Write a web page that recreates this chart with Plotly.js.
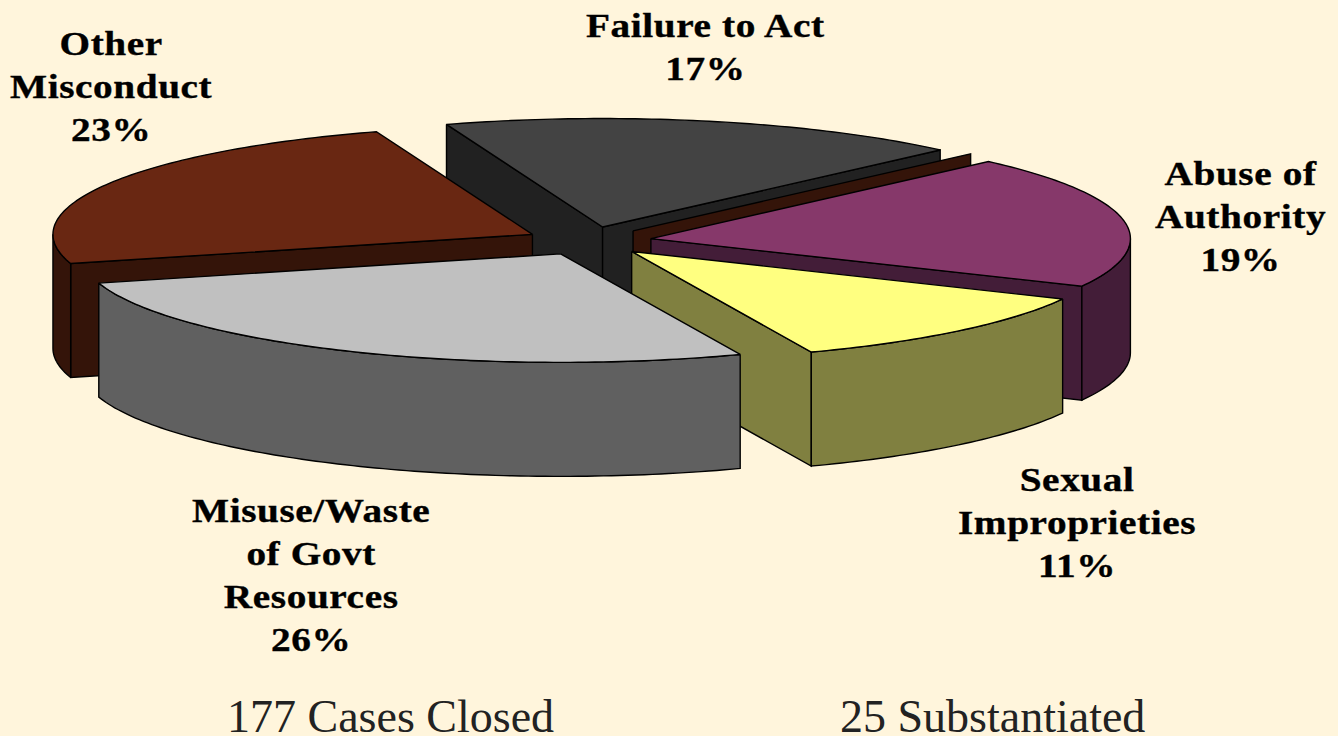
<!DOCTYPE html>
<html>
<head>
<meta charset="utf-8">
<script src="https://cdn.plot.ly/plotly-3.0.1.min.js"></script>
<style>
html,body{margin:0;padding:0;background:#fff5dc;overflow:hidden}
#chart{width:1338px;height:736px}
.annotation-text[style*="33px"]{
  letter-spacing:.5px;stroke:#000;stroke-width:.35px;
  transform-box:fill-box;transform-origin:center;transform:scaleX(1.19);
}
</style>
</head>
<body>
<div id="chart"></div>
<script>
// Data, clockwise from the back of the pie
var sliceNames  = ['Failure to Act', '', 'Abuse of<br>Authority', 'Sexual<br>Improprieties', 'Misuse/Waste<br>of Govt<br>Resources', 'Other<br>Misconduct'];
var sliceValues = [17, 0, 19, 11.2, 25.7, 23.1];
var topColors   = ['#434343', '#341409', '#86386a', '#ffff80', '#c0c0c0', '#692712'];
var wallColors  = ['#212121', '#341409', '#431d38', '#808040', '#606060', '#341409'];
var footerTexts = ['177 Cases Closed', '25 Substantiated'];

// Projection of the tilted pie into the plot's coordinate space
var view = {cx: 588.5, cy: 241, rx: 479.5, ry: 108.5, depth: 114, explode: 0.132, startDeg: 109};
var drawOrder = [0, 5, 1, 2, 3, 4];
var labelAnchors = [[705, 47], null, [1240, 217], [1077, 523], [311, 575], [111, 87]];
var footerAnchors = [[390, 716], [992, 716]];

var total = sliceValues.reduce(function (a, b) { return a + b; }, 0);
var rad = Math.PI / 180;

var angles = [], acc = view.startDeg;
sliceValues.forEach(function (v) {
  var span = v / total * 360;
  angles.push({from: acc, to: acc - span});
  acc -= span;
});

function apex(i) {
  var mid = (angles[i].from + angles[i].to) / 2 * rad;
  return [view.cx + view.explode * view.rx * Math.cos(mid),
          view.cy - view.explode * view.ry * Math.sin(mid)];
}
function rim(c, deg) {
  return [c[0] + view.rx * Math.cos(deg * rad), c[1] - view.ry * Math.sin(deg * rad)];
}
function arc(c, from, to) {
  var pts = [], n = Math.max(1, Math.ceil(Math.abs(from - to)));
  for (var k = 0; k <= n; k++) pts.push(rim(c, from + (to - from) * k / n));
  return pts;
}
function poly(pts, color) {
  var closed = pts.concat([pts[0]]);
  return {
    type: 'scatter', mode: 'lines', fill: 'toself', fillcolor: color,
    x: closed.map(function (p) { return p[0]; }),
    y: closed.map(function (p) { return p[1]; }),
    line: {color: '#000000', width: 1.4, simplify: false},
    hoverinfo: 'skip', showlegend: false
  };
}
function wall(edge, color) {
  var lower = edge.map(function (p) { return [p[0], p[1] + view.depth]; }).reverse();
  return poly(edge.concat(lower), color);
}

var traces = [];
drawOrder.forEach(function (i) {
  var c = apex(i), from = angles[i].from, to = angles[i].to;
  // radial side faces that turn toward the viewer
  if (Math.cos(from * rad) < 0) traces.push(wall([c, rim(c, from)], wallColors[i]));
  if (Math.cos(to * rad) > 0) traces.push(wall([c, rim(c, to)], wallColors[i]));
  // outer rim: only the part at the front of the pie
  var hi = Math.min(from, 0), lo = Math.max(to, -180);
  if (hi > lo) traces.push(wall(arc(c, hi, lo), wallColors[i]));
  if (sliceValues[i] > 0) traces.push(poly([c].concat(arc(c, from, to)), topColors[i]));
});

var annotations = [];
sliceNames.forEach(function (name, i) {
  if (!name) return;
  annotations.push({
    x: labelAnchors[i][0], y: labelAnchors[i][1], xref: 'x', yref: 'y',
    text: '<b>' + name + '<br>' + Math.round(sliceValues[i]) + '%</b>',
    showarrow: false, align: 'center', xanchor: 'center', yanchor: 'middle',
    font: {family: '"Liberation Serif", serif', size: 33, color: '#000000'}
  });
});
var footerNotes = footerTexts.map(function (t, i) {
  return {
    x: footerAnchors[i][0], y: footerAnchors[i][1], xref: 'x', yref: 'y',
    text: t, showarrow: false, xanchor: 'center', yanchor: 'middle',
    font: {family: '"Liberation Serif", serif', size: 46, color: '#222222'}
  };
});

Plotly.newPlot('chart', traces, {
  width: 1338, height: 736,
  margin: {l: 0, r: 0, t: 0, b: 0, pad: 0},
  paper_bgcolor: '#fff5dc', plot_bgcolor: '#fff5dc',
  showlegend: false,
  xaxis: {range: [0, 1338], visible: false, fixedrange: true},
  yaxis: {range: [736, 0], visible: false, fixedrange: true},
  annotations: annotations.concat(footerNotes)
}, {displayModeBar: false, staticPlot: true});
</script>
</body>
</html>
